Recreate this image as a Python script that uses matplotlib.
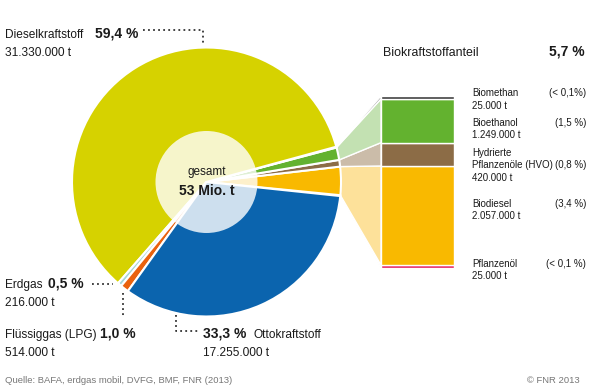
import matplotlib
matplotlib.use("Agg")
import matplotlib.pyplot as plt
from matplotlib.patches import Circle, Polygon
import numpy as np

plt.rcParams['font.family'] = ['Liberation Sans', 'DejaVu Sans']

# Kraftstoffe (Anteil in %, Menge)
fuel_names = ["Dieselkraftstoff", "Erdgas", "Flüssiggas (LPG)", "Ottokraftstoff"]
fuel_share = [59.4, 0.5, 1.0, 33.3]
fuel_tons = ["31.330.000 t", "216.000 t", "514.000 t", "17.255.000 t"]
fuel_colors = ["#d6d200", "#a6d5d8", "#ea620e", "#0b64ae"]

# Biokraftstoffe, von unten nach oben
bio_names = [["Pflanzenöl"], ["Biodiesel"], ["Hydrierte", "Pflanzenöle (HVO)"],
             ["Bioethanol"], ["Biomethan"]]
bio_share = [0.1, 3.4, 0.8, 1.5, 0.1]
bio_pct = ["(< 0,1 %)", "(3,4 %)", "(0,8 %)", "(1,5 %)", "(< 0,1%)"]
bio_tons = ["25.000 t", "2.057.000 t", "420.000 t", "1.249.000 t", "25.000 t"]
bio_colors = ["#e4175c", "#f9b900", "#8c6c46", "#63b22f", "#3d3d3d"]
bio_light = ["#f6a8c6", "#fde19a", "#cbbca9", "#c3e1b2", "#9a9a9a"]
bio_total = "5,7 %"
total_text = "53 Mio. t"

W, H = 593, 390
TXT = "#1a1a1a"
GREY = "#777777"

fig = plt.figure(figsize=(W / 100, H / 100), dpi=100)

# Achse fuer den Kreis (y nach oben)
ax = fig.add_axes([0, 0, 1, 1])
cx, cy, r = 206.5, H - 182, 134.5
values = bio_share + fuel_share
colors = bio_colors + fuel_colors
wedges, _ = ax.pie(values, colors=colors, startangle=-6, counterclock=True,
                   center=(cx, cy), radius=r,
                   wedgeprops=dict(edgecolor="white", linewidth=1.5))
ax.set_xlim(0, W)
ax.set_ylim(0, H)
ax.set_aspect("equal")
ax.axis("off")
ax.add_patch(Circle((cx, cy), 51, facecolor="white", alpha=0.8, edgecolor="none", zorder=5))

# Saeule Biokraftstoffe
bax = fig.add_axes([381 / W, (H - 268) / H, 73 / W, 172 / H])
bottoms = np.concatenate([[0], np.cumsum(bio_share)[:-1]])
bax.bar(0, bio_share, bottom=bottoms, width=1, color=bio_colors,
        edgecolor="white", linewidth=1.0)
bax.set_xlim(-0.5, 0.5)
bax.set_ylim(0, sum(bio_share))
bax.axis("off")

# Verbindungsflaechen zwischen Kreis und Saeule
to_ax = ax.transData.inverted()
for i, w in enumerate(wedges[:len(bio_share)]):
    t1, t2 = np.radians(w.theta1), np.radians(w.theta2)
    p1 = (cx + r * np.cos(t1), cy + r * np.sin(t1))
    p2 = (cx + r * np.cos(t2), cy + r * np.sin(t2))
    q1 = to_ax.transform(bax.transData.transform((-0.5, bottoms[i])))
    q2 = to_ax.transform(bax.transData.transform((-0.5, bottoms[i] + bio_share[i])))
    ax.add_patch(Polygon([p1, q1, q2, p2], closed=True, facecolor=bio_light[i],
                         edgecolor="white", linewidth=1.0, zorder=0))

# Ebene fuer Texte und Hinweislinien (y nach unten, in Pixeln)
lay = fig.add_axes([0, 0, 1, 1], facecolor="none")
lay.set_xlim(0, W)
lay.set_ylim(H, 0)
lay.axis("off")


def pct(v):
    return f"{v:.1f}".replace(".", ",") + " %"


dots = dict(color="#333333", linestyle=(0, (1, 1.8)), linewidth=1.3)
FS = 8.6
FB = 10
FR = 7.0

# Dieselkraftstoff
lay.text(5, 38, fuel_names[0], fontsize=FS, color=TXT, va="baseline")
lay.text(95, 38, pct(fuel_share[0]), fontsize=FB, fontweight="bold", color=TXT, va="baseline")
lay.text(5, 56, fuel_tons[0], fontsize=FS, color=TXT, va="baseline")
lay.plot([143, 203, 203], [30, 30, 44], **dots)

# Erdgas
lay.text(5, 288, fuel_names[1], fontsize=FS, color=TXT, va="baseline")
lay.text(48, 288, pct(fuel_share[1]), fontsize=FB, fontweight="bold", color=TXT, va="baseline")
lay.text(5, 306, fuel_tons[1], fontsize=FS, color=TXT, va="baseline")
lay.plot([92, 113], [284, 284], **dots)

# Fluessiggas
lay.text(5, 338, fuel_names[2], fontsize=FS, color=TXT, va="baseline")
lay.text(100, 338, pct(fuel_share[2]), fontsize=FB, fontweight="bold", color=TXT, va="baseline")
lay.text(5, 356, fuel_tons[2], fontsize=FS, color=TXT, va="baseline")
lay.plot([123, 123], [293, 318], **dots)

# Ottokraftstoff
lay.text(203, 338, pct(fuel_share[3]), fontsize=FB, fontweight="bold", color=TXT, va="baseline")
lay.text(253, 338, fuel_names[3], fontsize=FS, color=TXT, va="baseline")
lay.text(203, 356, fuel_tons[3], fontsize=FS, color=TXT, va="baseline")
lay.plot([176, 176, 198], [315, 331, 331], **dots)

# Mitte
lay.text(cx, 175, "gesamt", fontsize=8.5, color=TXT, ha="center", va="baseline", zorder=6)
lay.text(cx, 195, total_text, fontsize=FB, fontweight="bold", color=TXT, ha="center",
         va="baseline", zorder=6)

# Biokraftstoffanteil
lay.text(383, 56, "Biokraftstoffanteil", fontsize=8.9, color=TXT, va="baseline")
lay.text(585, 56, bio_total, fontsize=FB, fontweight="bold", color=TXT, ha="right", va="baseline")

# Beschriftung der Biokraftstoffe (Grundlinie der ersten Zeile)
label_y = [267, 207, 156, 126, 96.5]
step = 12.4
for lines, p, t, y in zip(bio_names, bio_pct, bio_tons, label_y):
    for k, line in enumerate(lines):
        lay.text(472, y + k * step, line, fontsize=FR, color=TXT, va="baseline")
    lay.text(586, y + (len(lines) - 1) * step, p, fontsize=FR, color=TXT, ha="right",
             va="baseline")
    lay.text(472, y + len(lines) * step, t, fontsize=FR, color=TXT, va="baseline")

# Quelle
lay.text(5, 383, "Quelle: BAFA, erdgas mobil, DVFG, BMF, FNR (2013)", fontsize=6.8,
         color=GREY, va="baseline")
lay.text(580, 383, "© FNR 2013", fontsize=6.8, color=GREY, ha="right", va="baseline")

fig.savefig("out.png", dpi=100)
plt.close(fig)
